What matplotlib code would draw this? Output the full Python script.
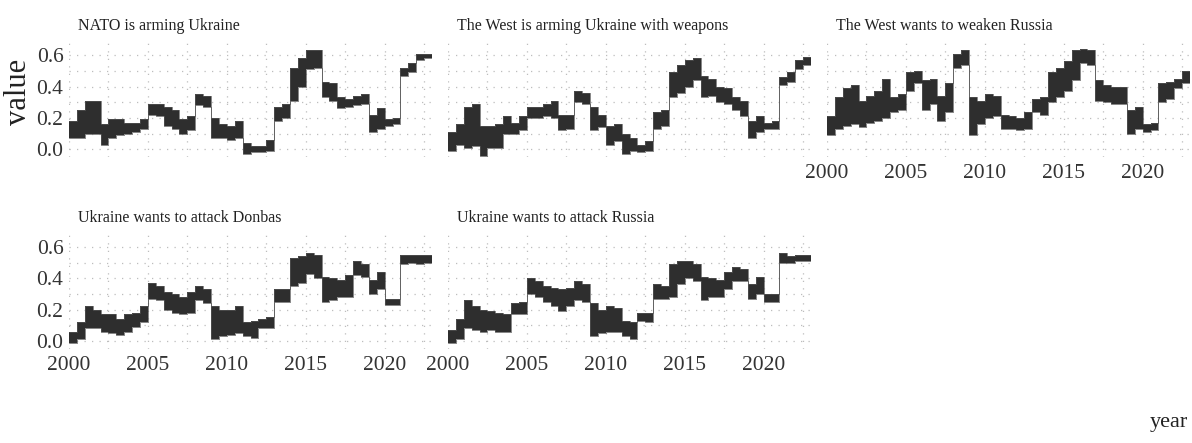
import numpy as np
import matplotlib
matplotlib.use("Agg")
import matplotlib.pyplot as plt
from matplotlib.ticker import MultipleLocator, FixedLocator

plt.rcParams['font.family'] = ['Liberation Serif', 'DejaVu Serif']

titles = ["NATO is arming Ukraine",
          "The West is arming Ukraine with weapons",
          "The West wants to weaken Russia",
          "Ukraine wants to attack Donbas",
          "Ukraine wants to attack Russia"]

# half-year periods starting 2000.0, 2000.5, ..., 2022.5 (series end at 2023.0)
period_start = 2000.0
period_len = 0.5
series_end = 2023.0

nato_hi = [0.18,0.25,0.31,0.31,0.16,0.19,0.19,0.17,0.17,0.19,0.29,0.29,0.27,0.25,0.19,0.21,0.35,0.34,0.20,0.16,0.15,0.18,0.04,0.02,0.02,0.06,0.27,0.29,0.52,0.58,0.63,0.63,0.43,0.42,0.33,0.32,0.34,0.35,0.22,0.26,0.19,0.20,0.52,0.55,0.61,0.61]
nato_lo = [0.07,0.07,0.10,0.10,0.03,0.07,0.09,0.10,0.11,0.13,0.22,0.21,0.15,0.13,0.10,0.12,0.28,0.27,0.07,0.07,0.06,0.07,-0.03,-0.02,-0.02,-0.01,0.18,0.20,0.31,0.40,0.51,0.52,0.33,0.31,0.26,0.27,0.28,0.29,0.11,0.13,0.15,0.16,0.47,0.49,0.57,0.58]

arm_hi = [0.11,0.16,0.27,0.29,0.15,0.15,0.16,0.21,0.17,0.21,0.27,0.27,0.29,0.31,0.22,0.22,0.37,0.36,0.27,0.22,0.15,0.16,0.10,0.07,0.03,0.05,0.24,0.25,0.49,0.54,0.57,0.58,0.47,0.45,0.40,0.39,0.33,0.31,0.18,0.21,0.17,0.18,0.46,0.49,0.57,0.59]
arm_lo = [-0.01,0.03,0.01,0.02,-0.04,0.01,0.01,0.10,0.10,0.12,0.20,0.20,0.21,0.20,0.12,0.13,0.30,0.29,0.12,0.14,0.03,0.05,-0.03,-0.01,-0.02,-0.01,0.13,0.15,0.33,0.36,0.40,0.44,0.33,0.34,0.30,0.29,0.25,0.21,0.07,0.11,0.13,0.13,0.41,0.43,0.51,0.54]

weaken_hi = [0.21,0.33,0.39,0.41,0.31,0.34,0.37,0.45,0.33,0.35,0.49,0.50,0.44,0.45,0.34,0.42,0.61,0.63,0.33,0.31,0.35,0.34,0.22,0.21,0.20,0.24,0.32,0.33,0.49,0.52,0.56,0.63,0.64,0.63,0.44,0.41,0.40,0.40,0.25,0.27,0.16,0.17,0.42,0.43,0.45,0.50]
weaken_lo = [0.09,0.13,0.15,0.16,0.14,0.17,0.18,0.20,0.24,0.25,0.37,0.42,0.25,0.29,0.18,0.24,0.52,0.54,0.09,0.16,0.20,0.21,0.13,0.13,0.12,0.13,0.24,0.22,0.30,0.33,0.37,0.44,0.55,0.54,0.31,0.30,0.29,0.29,0.10,0.13,0.11,0.12,0.30,0.32,0.39,0.42]

donbas_hi = [0.06,0.12,0.22,0.20,0.17,0.17,0.14,0.17,0.18,0.22,0.37,0.35,0.31,0.30,0.28,0.31,0.35,0.33,0.22,0.20,0.20,0.22,0.12,0.13,0.14,0.15,0.33,0.33,0.53,0.54,0.56,0.55,0.41,0.40,0.39,0.42,0.51,0.49,0.39,0.44,0.27,0.27,0.55,0.55,0.55,0.55]
donbas_lo = [-0.01,0.01,0.08,0.08,0.06,0.05,0.04,0.06,0.09,0.12,0.27,0.26,0.20,0.18,0.17,0.18,0.26,0.24,0.01,0.03,0.04,0.05,0.03,0.02,0.08,0.08,0.25,0.25,0.35,0.37,0.43,0.40,0.25,0.26,0.28,0.28,0.42,0.41,0.30,0.33,0.23,0.23,0.49,0.50,0.49,0.50]

russia_hi = [0.07,0.14,0.26,0.22,0.20,0.19,0.18,0.17,0.24,0.25,0.40,0.38,0.35,0.34,0.33,0.34,0.38,0.36,0.24,0.20,0.22,0.21,0.13,0.12,0.18,0.18,0.36,0.35,0.49,0.51,0.51,0.49,0.41,0.40,0.39,0.44,0.47,0.46,0.36,0.41,0.30,0.30,0.56,0.54,0.55,0.55]
russia_lo = [-0.01,0.01,0.08,0.07,0.06,0.07,0.06,0.06,0.17,0.17,0.30,0.28,0.25,0.22,0.19,0.22,0.26,0.25,0.03,0.05,0.06,0.06,0.03,0.01,0.13,0.12,0.27,0.27,0.28,0.36,0.40,0.38,0.26,0.28,0.28,0.33,0.38,0.38,0.27,0.30,0.25,0.25,0.50,0.50,0.51,0.51]

series = [(nato_lo, nato_hi), (arm_lo, arm_hi), (weaken_lo, weaken_hi),
          (donbas_lo, donbas_hi), (russia_lo, russia_hi)]

x_ticks = [2000, 2005, 2010, 2015, 2020]
y_ticks = [0.0, 0.2, 0.4, 0.6]
y_ticklabels = ["0.0", "0.2", "0.4", "0.6"]

W, H = 1192, 443
fig = plt.figure(figsize=(W / 100, H / 100), dpi=100)
fig.patch.set_facecolor('white')

col_left = [69, 448, 827]
panel_w = 363
row_top = [42.6, 234.3]   # pixel y of panel top (ylim top)
panel_h = 114.5
ylim = (-0.05, 0.68)

grid_kw = dict(color='#bdbdbd', linestyle=(0, (1, 5)), linewidth=0.9)

positions = [(0, 0), (0, 1), (0, 2), (1, 0), (1, 1)]
for i, ((r, c), (lo, hi)) in enumerate(zip(positions, series)):
    left = col_left[c] / W
    bottom = 1 - (row_top[r] + panel_h) / H
    ax = fig.add_axes([left, bottom, panel_w / W, panel_h / H])
    n = len(lo)
    xs = np.append(period_start + period_len * np.arange(n), series_end)
    lo_e = np.append(lo, lo[-1])
    hi_e = np.append(hi, hi[-1])
    ax.fill_between(xs, lo_e, hi_e, step='post', color='#2e2e2e', linewidth=0)
    ax.step(xs, lo_e, where='post', color='#555555', lw=0.5)
    ax.step(xs, hi_e, where='post', color='#555555', lw=0.5)
    ax.set_xlim(2000, series_end)
    ax.set_ylim(*ylim)
    ax.xaxis.set_major_locator(FixedLocator(x_ticks))
    ax.xaxis.set_minor_locator(MultipleLocator(2.5))
    ax.yaxis.set_major_locator(FixedLocator(y_ticks))
    ax.yaxis.set_minor_locator(MultipleLocator(0.1))
    ax.grid(True, which='both', **grid_kw)
    ax.set_axisbelow(True)
    for s in ax.spines.values():
        s.set_visible(False)
    ax.tick_params(which='both', length=0)
    ax.tick_params(axis='x', labelsize=15.5, pad=5, colors='#333333')
    ax.tick_params(axis='y', labelsize=15.5, pad=4, colors='#333333')
    if c == 0:
        ax.set_yticklabels(y_ticklabels)
    else:
        ax.set_yticklabels([])
    if r == 1 or c == 2:
        ax.set_xticklabels([str(t) for t in x_ticks])
    else:
        ax.set_xticklabels([])
    title_y = [30, 222][r]
    fig.text((col_left[c] + 9) / W, 1 - title_y / H, titles[i],
             fontsize=11.5, ha='left', va='baseline', color='#222222')

fig.text(18 / W, 1 - 92 / H, "value", rotation=90, fontsize=22,
         ha='center', va='center', color='#222222')
fig.text(1188 / W, 1 - 427 / H, "year", fontsize=16,
         ha='right', va='baseline', color='#222222')

fig.savefig("out.png", dpi=100, facecolor='white')
